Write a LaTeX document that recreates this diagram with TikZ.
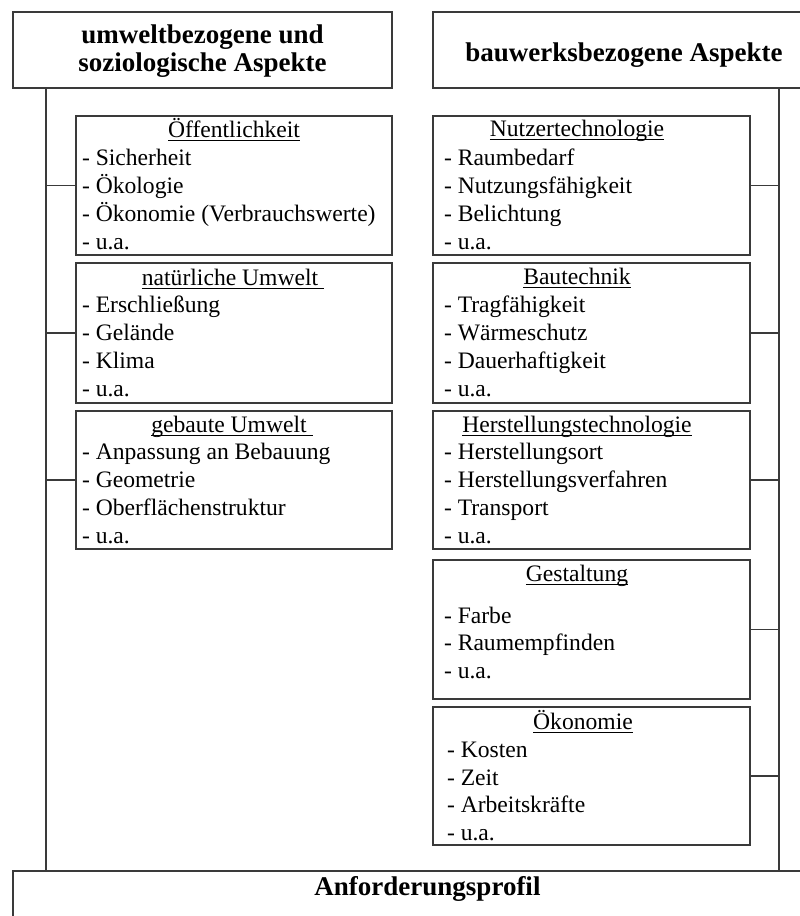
\documentclass[tikz,border=0pt]{standalone}
\usepackage{fontspec}
\setmainfont{Liberation Serif}

% underlined box heading with a fixed rule position
\newcommand\titleline[1]{\setbox0\hbox{#1}\rlap{\rule[-3.8pt]{\wd0}{0.9pt}}\box0}

\definecolor{linegray}{HTML}{3A3A3A}

\tikzset{
  every node/.style={inner sep=0pt, outer sep=0pt},
  frame/.style={draw=linegray, line width=1.2pt, rectangle, anchor=north west},
  head/.style={font=\bfseries\fontsize{27}{30}\selectfont, anchor=base},
  boxtitle/.style={font=\fontsize{23.6}{28}\selectfont, anchor=base},
  boxitem/.style={font=\fontsize{23.6}{28}\selectfont, anchor=base west},
  link/.style={draw=linegray, line width=1.2pt},
}

\begin{document}
\begin{tikzpicture}[x=1pt, y=-1pt]
\useasboundingbox (0,0) rectangle (800,916);

% headers
\node[frame, minimum width=379pt, minimum height=76pt] (lhead) at (13,12) {};
\node[head] (lhead-1) at (202.5,43.5) {umweltbezogene und};
\node[head] (lhead-2) at (202.5,71.5) {soziologische Aspekte};
\node[frame, minimum width=382pt, minimum height=76pt] (rhead) at (433,12) {};
\node[head] (rhead-1) at (624,61.5) {bauwerksbezogene Aspekte};

% result box
\node[frame, minimum width=829pt, minimum height=80pt] (profil) at (13,871) {};
\node[head] (profil-1) at (427.5,895) {Anforderungsprofil};

% spines
\coordinate (ltop) at (46,88);
\coordinate (lbot) at (46,871);
\coordinate (rtop) at (779,88);
\coordinate (rbot) at (779,871);
\draw[link] (ltop) -- (lbot);
\draw[link] (rtop) -- (rbot);

% left column
\node[frame, minimum width=316pt, minimum height=139pt] (oeff) at (76,116) {};
\node[boxtitle] (oeff-t) at (234,137) {\titleline{Öffentlichkeit}};
\foreach \txt [count=\i] in {- Sicherheit, - Ökologie, - Ökonomie (Verbrauchswerte), - u.a.}
  \node[boxitem] (oeff-\i) at (82,137+28*\i) {\txt};

\node[frame, minimum width=316pt, minimum height=140pt] (natur) at (76,263) {};
\node[boxtitle] (natur-t) at (233,285) {\titleline{natürliche Umwelt\ }};
\foreach \txt [count=\i] in {- Erschließung, - Gelände, - Klima, - u.a.}
  \node[boxitem] (natur-\i) at (82,285+27.75*\i) {\txt};

\node[frame, minimum width=316pt, minimum height=138pt] (gebaut) at (76,411) {};
\node[boxtitle] (gebaut-t) at (232,432) {\titleline{gebaute Umwelt\ }};
\foreach \txt [count=\i] in {- Anpassung an Bebauung, - Geometrie, - Oberflächenstruktur, - u.a.}
  \node[boxitem] (gebaut-\i) at (82,432+27.75*\i) {\txt};

% right column
\node[frame, minimum width=317pt, minimum height=139pt] (nutzer) at (433,116) {};
\node[boxtitle] (nutzer-t) at (577,136) {\titleline{Nutzertechnologie}};
\foreach \txt [count=\i] in {- Raumbedarf, - Nutzungsfähigkeit, - Belichtung, - u.a.}
  \node[boxitem] (nutzer-\i) at (444,137+28*\i) {\txt};

\node[frame, minimum width=317pt, minimum height=140pt] (bau) at (433,263) {};
\node[boxtitle] (bau-t) at (577,284) {\titleline{Bautechnik}};
\foreach \txt [count=\i] in {- Tragfähigkeit, - Wärmeschutz, - Dauerhaftigkeit, - u.a.}
  \node[boxitem] (bau-\i) at (444,285+27.75*\i) {\txt};

\node[frame, minimum width=317pt, minimum height=138pt] (herst) at (433,411) {};
\node[boxtitle] (herst-t) at (577,432) {\titleline{Herstellungstechnologie}};
\foreach \txt [count=\i] in {- Herstellungsort, - Herstellungsverfahren, - Transport, - u.a.}
  \node[boxitem] (herst-\i) at (444,432+27.75*\i) {\txt};

\node[frame, minimum width=317pt, minimum height=139pt] (gestalt) at (433,560) {};
\node[boxtitle] (gestalt-t) at (577,581) {\titleline{Gestaltung}};
\foreach \txt [count=\i] in {- Farbe, - Raumempfinden, - u.a.}
  \node[boxitem] (gestalt-\i) at (444,595.5+27.5*\i) {\txt};

\node[frame, minimum width=317pt, minimum height=138pt] (oekon) at (433,707) {};
\node[boxtitle] (oekon-t) at (583,729) {\titleline{Ökonomie}};
\foreach \txt [count=\i] in {- Kosten, - Zeit, - Arbeitskräfte, - u.a.}
  \node[boxitem] (oekon-\i) at (447,730+27.5*\i) {\txt};

% branches from the spines
\foreach \b in {oeff, natur, gebaut}
  \draw[link] (\b.west) -- (\b.west -| ltop);
\foreach \b in {nutzer, bau, herst, gestalt, oekon}
  \draw[link] (\b.east) -- (\b.east -| rtop);
\end{tikzpicture}
\end{document}
